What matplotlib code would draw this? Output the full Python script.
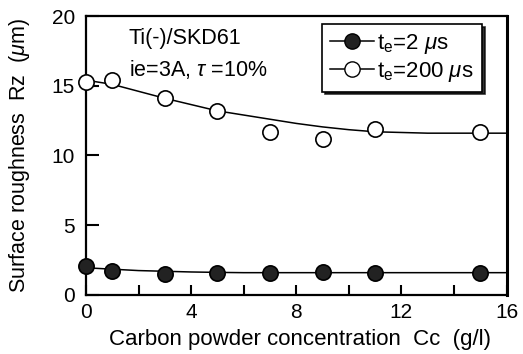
import matplotlib
matplotlib.use("Agg")
import matplotlib.pyplot as plt
from matplotlib.lines import Line2D
from matplotlib.ticker import MultipleLocator, FuncFormatter

plt.rcParams["font.family"] = ["Liberation Sans", "DejaVu Sans"]
plt.rcParams["mathtext.fontset"] = "custom"
plt.rcParams["mathtext.rm"] = "Liberation Sans"
plt.rcParams["mathtext.it"] = "Liberation Sans:italic"

# measured points
cc = [0, 1, 3, 5, 7, 9, 11, 15]
rz_2us = [2.1, 1.75, 1.5, 1.55, 1.55, 1.65, 1.6, 1.6]
rz_200us = [15.3, 15.4, 14.1, 13.2, 11.7, 11.2, 11.9, 11.7]

# fitted curves
cc_fit = [0, 1, 2, 3, 4, 5, 6, 7, 8, 9, 10, 11, 12, 13, 14, 15, 16]
fit_2us = [1.95, 1.85, 1.75, 1.7, 1.65, 1.62, 1.6, 1.6, 1.6, 1.6, 1.6, 1.6, 1.6, 1.6, 1.6, 1.6, 1.6]
fit_200us = [15.4, 15.1, 14.6, 14.1, 13.65, 13.2, 12.9, 12.6, 12.3, 12.05, 11.85, 11.7,
             11.65, 11.6, 11.6, 11.6, 11.6]

labels = [r"t$_\mathrm{e}$=2 $\it{\mu}$s", r"t$_\mathrm{e}$=200 $\it{\mu}$s"]

fig = plt.figure(figsize=(5.23, 3.54), dpi=100)
ax = fig.add_axes([0.1644, 0.1667, 0.8041, 0.7881])

ax.plot(cc_fit, fit_2us, color="black", lw=1.1, zorder=2)
ax.plot(cc_fit, fit_200us, color="black", lw=1.1, zorder=2)
ax.plot(cc, rz_2us, "o", ms=11, mfc="#222222", mec="black", mew=1.2, clip_on=False, zorder=3)
ax.plot(cc, rz_200us, "o", ms=11, mfc="white", mec="black", mew=1.2, clip_on=False, zorder=3)

ax.set_xlim(0, 16)
ax.set_ylim(0, 20)
ax.xaxis.set_major_locator(MultipleLocator(2))
ax.xaxis.set_major_formatter(FuncFormatter(lambda v, p: f"{v:.0f}" if v % 4 == 0 else ""))
ax.yaxis.set_major_locator(MultipleLocator(5))
ax.tick_params(axis="x", direction="in", length=7, width=1.5, labelsize=15, pad=6)
ax.tick_params(axis="y", direction="in", length=9, width=1.5, labelsize=15, pad=8)
for s in ax.spines.values():
    s.set_linewidth(1.6)
ax.spines["right"].set_linewidth(2.2)

ax.set_xlabel("Carbon powder concentration  Cc  (g/l)", fontsize=16)
ax.xaxis.set_label_coords(0.509, -0.123)
ax.set_ylabel(r"Surface roughness  Rz  ($\it{\mu}$m)", fontsize=15.5)
ax.yaxis.set_label_coords(-0.128, 0.50)

ax.text(0.10, 0.92, "Ti(-)/SKD61", transform=ax.transAxes, fontsize=15.5, va="center")
ax.text(0.103, 0.81, r"ie=3A, $\it{\tau}$ =10%", transform=ax.transAxes, fontsize=15.5,
        va="center")

handles = [
    Line2D([], [], color="black", lw=1.1, marker="o", ms=11, mfc="#222222", mec="black"),
    Line2D([], [], color="black", lw=1.1, marker="o", ms=11, mfc="white", mec="black"),
]
leg = ax.legend(handles, labels, loc="upper left", bbox_to_anchor=(0.561, 0.971),
                borderaxespad=0, fontsize=16, frameon=True, fancybox=False,
                edgecolor="black", handlelength=2.0, handletextpad=0.15,
                labelspacing=0.18, borderpad=0.35,
                shadow={"color": "black", "alpha": 0.8})
leg.get_frame().set_linewidth(1.2)

fig.savefig("out.png", dpi=100)
plt.close(fig)
